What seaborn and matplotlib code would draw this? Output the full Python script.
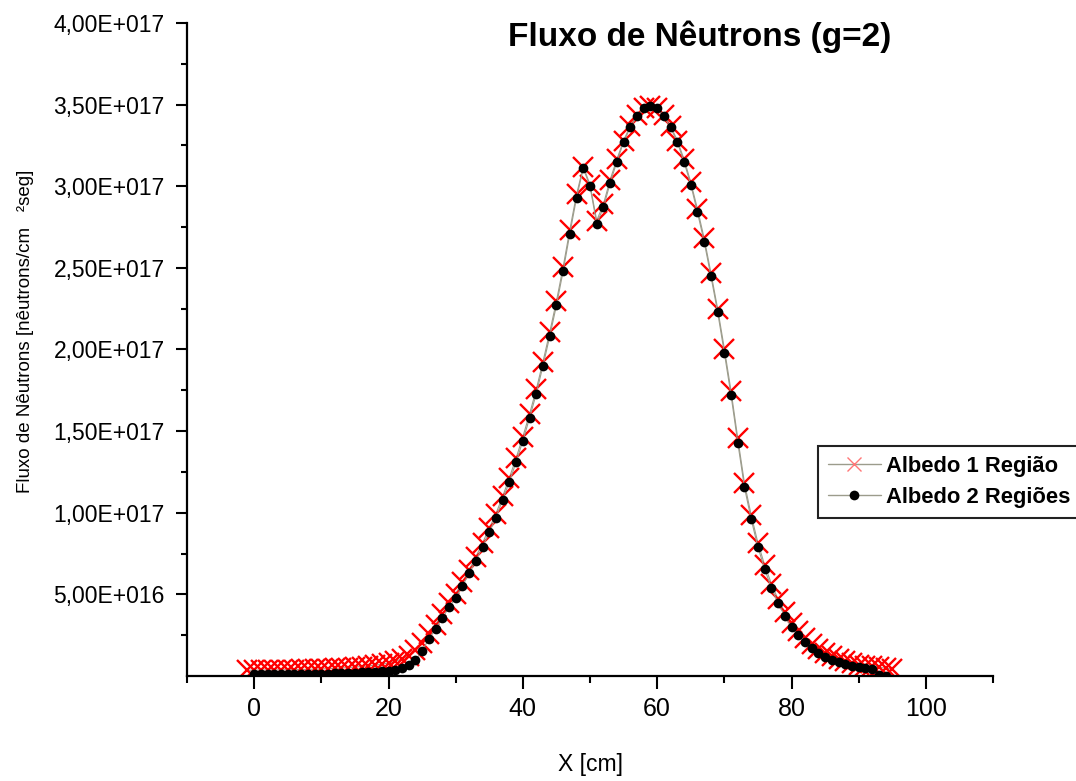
import numpy as np
import pandas as pd
import matplotlib
matplotlib.use("Agg")
import matplotlib.pyplot as plt
from matplotlib.lines import Line2D
from matplotlib.ticker import MultipleLocator, FixedLocator, FuncFormatter
import seaborn as sns

# ---------------- data (values in units of 1e17) ----------------
x_2reg = list(range(0, 95))
flux_2reg = [
    0.010, 0.010, 0.010, 0.011, 0.011, 0.011, 0.012, 0.012, 0.013, 0.013,
    0.014, 0.015, 0.016, 0.017, 0.019, 0.021, 0.023, 0.025, 0.027, 0.029,
    0.030, 0.038, 0.047, 0.067, 0.098, 0.153, 0.227, 0.290, 0.354, 0.420,
    0.480, 0.550, 0.630, 0.705, 0.790, 0.880, 0.970, 1.080, 1.190, 1.310,
    1.440, 1.580, 1.730, 1.900, 2.080, 2.270, 2.480, 2.710, 2.930, 3.110,
    3.000, 2.770, 2.870, 3.020, 3.150, 3.270, 3.360, 3.430, 3.480, 3.490,
    3.480, 3.430, 3.360, 3.270, 3.150, 3.010, 2.840, 2.660, 2.450, 2.230,
    1.980, 1.720, 1.430, 1.155, 0.960, 0.790, 0.655, 0.540, 0.446, 0.368,
    0.300, 0.250, 0.207, 0.170, 0.143, 0.118, 0.098, 0.084, 0.072, 0.063,
    0.055, 0.049, 0.045, 0.004, 0.003,
]

x_1reg = list(range(-1, 96))
flux_1reg = [
    0.035,
    0.036, 0.036, 0.037, 0.037, 0.038, 0.038, 0.039, 0.040, 0.041, 0.042,
    0.043, 0.045, 0.047, 0.049, 0.052, 0.055, 0.058, 0.062, 0.067, 0.072,
    0.080, 0.090, 0.105, 0.125, 0.160, 0.200, 0.255, 0.315, 0.380, 0.445,
    0.505, 0.575, 0.650, 0.730, 0.815, 0.905, 0.995, 1.100, 1.215, 1.335,
    1.465, 1.605, 1.755, 1.925, 2.105, 2.295, 2.505, 2.735, 2.950, 3.120,
    3.010, 2.790, 2.890, 3.040, 3.165, 3.280, 3.370, 3.435, 3.480, 3.490,
    3.480, 3.435, 3.370, 3.280, 3.165, 3.025, 2.860, 2.680, 2.470, 2.250,
    2.005, 1.745, 1.455, 1.180, 0.985, 0.815, 0.680, 0.565, 0.470, 0.392,
    0.325, 0.275, 0.232, 0.195, 0.166, 0.141, 0.120, 0.104, 0.090, 0.079,
    0.070, 0.064, 0.059, 0.054, 0.048, 0.043,
]
SCALE = 1e17

series_names = ["Albedo 1 Região", "Albedo 2 Regiões"]
title = "Fluxo de Nêutrons (g=2)"
xlabel = "X [cm]"
ylabel = "Fluxo de Nêutrons [nêutrons/cm   ²seg]"
y_major = [0.5, 1.0, 1.5, 2.0, 2.5, 3.0, 3.5, 4.0]

# ---------------- style ----------------
sns.set_theme(style="white")
plt.rcParams["font.family"] = ["Liberation Sans", "DejaVu Sans"]
for key in ["text.color", "axes.labelcolor", "xtick.color", "ytick.color"]:
    plt.rcParams[key] = "black"

df1 = pd.DataFrame({"x": x_1reg, "y": np.array(flux_1reg) * SCALE})
df2 = pd.DataFrame({"x": x_2reg, "y": np.array(flux_2reg) * SCALE})

fig = plt.figure(figsize=(10.76, 7.81), dpi=100)
ax = fig.add_axes([187 / 1076, 1 - 676 / 781, (993 - 187) / 1076, (676 - 23) / 781])

line_col = "#9c9c8c"
sns.lineplot(data=df1, x="x", y="y", ax=ax, color=line_col, linewidth=0.8,
             marker="x", markersize=15, markeredgewidth=1.7,
             markeredgecolor="#ff0000", markerfacecolor="#ff0000",
             sort=False, estimator=None, legend=False)
sns.lineplot(data=df2, x="x", y="y", ax=ax, color=line_col, linewidth=0.8,
             marker="o", markersize=7, markeredgewidth=0,
             markerfacecolor="black", sort=False, estimator=None, legend=False)

ax.set_xlim(-10, 110)
ax.set_ylim(0, 4.0 * SCALE)

ax.xaxis.set_major_locator(MultipleLocator(20))
ax.xaxis.set_minor_locator(MultipleLocator(10))
ax.yaxis.set_major_locator(FixedLocator([v * SCALE for v in y_major]))
ax.yaxis.set_minor_locator(FixedLocator([v * SCALE for v in np.arange(0.25, 4.0, 0.5)]))


def sci_fmt(v, pos):
    if v == 0:
        return "0"
    exp = int(np.floor(np.log10(abs(v))))
    mant = v / 10 ** exp
    return f"{mant:.2f}".replace(".", ",") + f"E+{exp:03d}"


ax.yaxis.set_major_formatter(FuncFormatter(sci_fmt))

for s in ["top", "right"]:
    ax.spines[s].set_visible(False)
for s in ["left", "bottom"]:
    ax.spines[s].set_color("black")
    ax.spines[s].set_linewidth(1.6)

ax.tick_params(axis="x", which="major", direction="out", length=9, width=1.5,
               color="black", labelcolor="black", labelsize=18, pad=6, bottom=True)
ax.tick_params(axis="x", which="minor", direction="out", length=5, width=1.5,
               color="black", bottom=True)
ax.tick_params(axis="y", which="major", direction="out", length=8, width=1.5,
               color="black", labelcolor="black", labelsize=16.5, pad=8, left=True)
ax.tick_params(axis="y", which="minor", direction="out", length=4, width=1.5,
               color="black", left=True)

ax.set_xlabel(xlabel, fontsize=16.5, color="black")
ax.xaxis.set_label_coords(0.5, -0.118)
ax.set_ylabel(ylabel, fontsize=13.5, color="black")
ax.yaxis.set_label_coords(-0.19, 0.528)

fig.text(700 / 1076, 1 - 37 / 781, title, fontsize=24, fontweight="bold",
         ha="center", va="center", color="black")

handles = [
    Line2D([], [], color=line_col, linewidth=1.0, marker="x", markersize=10,
           markeredgewidth=1.0, markeredgecolor="#ff7777"),
    Line2D([], [], color=line_col, linewidth=1.0, marker="o", markersize=7,
           markeredgewidth=0, markerfacecolor="black"),
]
leg = fig.legend(handles, series_names, loc="upper left",
                 bbox_to_anchor=(818 / 1076, 1 - 446 / 781),
                 prop={"size": 15.8, "weight": "bold"}, frameon=True,
                 fancybox=False, framealpha=1, edgecolor="#222222",
                 borderpad=0.45, labelspacing=0.45, handlelength=2.4,
                 handletextpad=0.25, borderaxespad=0)
leg.get_frame().set_linewidth(1.5)
for t in leg.get_texts():
    t.set_color("black")

fig.savefig("out.png", dpi=100)
